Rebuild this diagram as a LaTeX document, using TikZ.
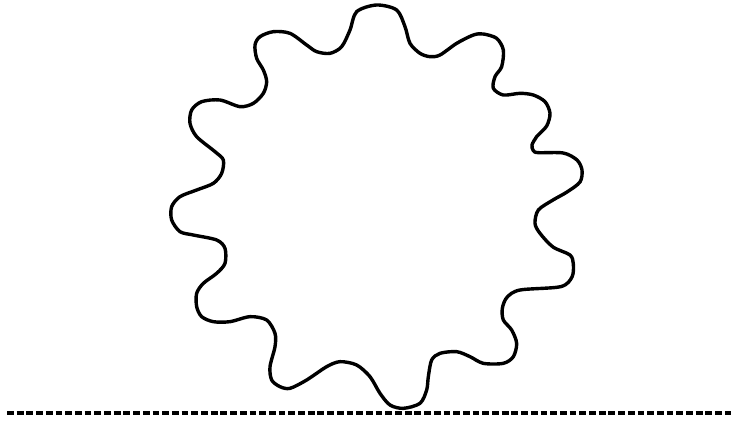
\documentclass[tikz,border=0pt]{standalone}
\begin{document}
\begin{tikzpicture}[x=1pt,y=-1pt,
  wavy/.style={line width=3.4pt,line join=round},
  baseline/.style={line width=3.2pt,dash pattern=on 6.8pt off 2.9pt}]
\useasboundingbox (0,0) rectangle (733,421);
\coordinate (L) at (7,413);
\coordinate (R) at (731,413);
\draw[baseline] (L) -- (R);
\begin{scope}[x=0.33333pt,y=-0.33333pt,xshift=150pt]
\draw[wavy] plot[smooth cycle,tension=0.5] coordinates {
(620,35) (680,15) (740,30) (765,80) (780,130) (810,160) (840,170) (870,165)
(920,130) (970,105) (1000,102) (1040,115) (1060,150) (1055,200) (1035,230)
(1030,265) (1060,285) (1110,280) (1150,285) (1185,305) (1200,340) (1190,378)
(1160,410) (1146,435) (1150,452) (1165,458) (1240,459) (1281,480) (1296,510)
(1290,546) (1251,576) (1209,600) (1165,630) (1155,670) (1170,700) (1209,741)
(1260,765) (1270,792) (1266,831) (1232,860) (1110,870) (1071,892) (1057,925)
(1060,960)
(1085,990) (1100,1030) (1090,1070) (1060,1090) (1000,1090) (960,1070)
(920,1055) (870,1060) (845,1080) (835,1130) (830,1170) (810,1210) (760,1225)
(720,1215) (690,1180) (660,1130) (620,1095) (570,1085) (530,1100) (470,1140)
(420,1165) (390,1160) (365,1140) (360,1100) (375,1040) (375,1000) (350,960)
(300,950) (240,965) (190,965) (155,950) (140,920) (140,880) (160,850)
(200,820) (225,790) (225,745) (200,720) (130,705) (90,695) (65,660) (65,620)
(90,590) (140,570) (190,550) (215,520) (220,480) (195,455) (140,410)
(120,370) (125,330) (155,305) (210,300) (270,320) (310,310) (340,280)
(350,245) (340,210) (320,175) (315,135) (330,110) (370,95) (420,100)
(470,135) (500,155) (540,160) (575,140) (600,90)};
\end{scope}
\end{tikzpicture}
\end{document}
